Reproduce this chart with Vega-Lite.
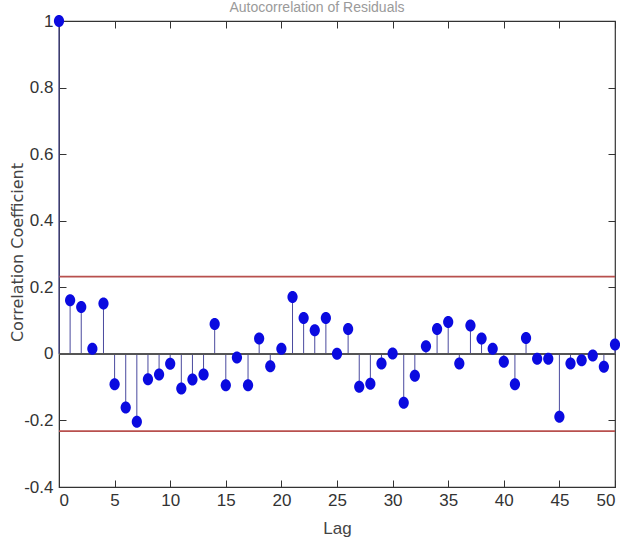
{
  "$schema": "https://vega.github.io/schema/vega-lite/v6.json",
  "width": 556,
  "height": 466,
  "autosize": {"type": "none"},
  "padding": {"left": 59, "top": 21, "right": 5, "bottom": 56},
  "background": "white",
  "title": {"text": "Autocorrelation of Residuals", "fontSize": 14, "font": "Liberation Sans", "fontWeight": "normal", "color": "#9a9a9a", "offset": 0, "baseline": "bottom", "dy": 17, "dx": -20},
  "config": {
    "view": {"stroke": "#333333", "strokeWidth": 1.2},
    "axis": {"grid": false, "domainColor": "#333333", "tickColor": "#333333", "labelColor": "#333333", "titleColor": "#444444", "labelFont": "Liberation Sans Narrow, Liberation Sans", "labelFontSize": 17, "titleFontWeight": "normal"}
  },
  "datasets": {
    "limits": [{"limit": 0.232}, {"limit": -0.232}]
  },
  "data": {"values": [
    {"lag": 0, "acf": 1.0},
    {"lag": 1, "acf": 0.161},
    {"lag": 2, "acf": 0.141},
    {"lag": 3, "acf": 0.015},
    {"lag": 4, "acf": 0.151},
    {"lag": 5, "acf": -0.091},
    {"lag": 6, "acf": -0.161},
    {"lag": 7, "acf": -0.204},
    {"lag": 8, "acf": -0.076},
    {"lag": 9, "acf": -0.062},
    {"lag": 10, "acf": -0.030},
    {"lag": 11, "acf": -0.104},
    {"lag": 12, "acf": -0.077},
    {"lag": 13, "acf": -0.062},
    {"lag": 14, "acf": 0.090},
    {"lag": 15, "acf": -0.094},
    {"lag": 16, "acf": -0.011},
    {"lag": 17, "acf": -0.094},
    {"lag": 18, "acf": 0.046},
    {"lag": 19, "acf": -0.037},
    {"lag": 20, "acf": 0.015},
    {"lag": 21, "acf": 0.171},
    {"lag": 22, "acf": 0.108},
    {"lag": 23, "acf": 0.071},
    {"lag": 24, "acf": 0.108},
    {"lag": 25, "acf": 0.0},
    {"lag": 26, "acf": 0.075},
    {"lag": 27, "acf": -0.099},
    {"lag": 28, "acf": -0.090},
    {"lag": 29, "acf": -0.029},
    {"lag": 30, "acf": 0.001},
    {"lag": 31, "acf": -0.147},
    {"lag": 32, "acf": -0.066},
    {"lag": 33, "acf": 0.023},
    {"lag": 34, "acf": 0.075},
    {"lag": 35, "acf": 0.096},
    {"lag": 36, "acf": -0.029},
    {"lag": 37, "acf": 0.085},
    {"lag": 38, "acf": 0.046},
    {"lag": 39, "acf": 0.015},
    {"lag": 40, "acf": -0.024},
    {"lag": 41, "acf": -0.091},
    {"lag": 42, "acf": 0.048},
    {"lag": 43, "acf": -0.015},
    {"lag": 44, "acf": -0.015},
    {"lag": 45, "acf": -0.189},
    {"lag": 46, "acf": -0.029},
    {"lag": 47, "acf": -0.019},
    {"lag": 48, "acf": -0.005},
    {"lag": 49, "acf": -0.039},
    {"lag": 50, "acf": 0.028}
  ]},
  "resolve": {"axis": {"x": "independent", "y": "independent"}},
  "layer": [
    {
      "data": {"name": "limits"},
      "mark": {"type": "rule", "color": "#b8504e", "strokeWidth": 1.6},
      "encoding": {
        "y": {"field": "limit", "type": "quantitative", "scale": {"domain": [-0.4, 1], "nice": false, "zero": false}, "axis": null}
      }
    },
    {
      "mark": {"type": "rule", "color": "#4a4a9e", "strokeWidth": 1},
      "encoding": {
        "x": {"field": "lag", "type": "quantitative", "scale": {"domain": [0, 50], "nice": false, "zero": false},
          "axis": {"orient": "bottom", "values": [0,5,10,15,20,25,30,35,40,45,50], "tickSize": -7, "labelPadding": 12, "title": "Lag", "titleFont": "Liberation Sans Narrow, Liberation Sans", "titleFontSize": 17, "titlePadding": 12}},
        "y": {"field": "acf", "type": "quantitative", "scale": {"domain": [-0.4, 1], "nice": false, "zero": false},
          "axis": {"orient": "left", "values": [-0.4,-0.2,0,0.2,0.4,0.6,0.8,1], "labelExpr": "'' + datum.value", "tickSize": -7, "labelPadding": 13, "title": "Correlation Coefficient", "titleFont": "DejaVu Sans", "titleFontSize": 16, "titleX": -42, "titleY": 231, "titleBaseline": "middle"}},
        "y2": {"datum": 0}
      }
    },
    {
      "mark": {"type": "rule", "color": "#555555", "strokeWidth": 1.5},
      "encoding": {"y": {"datum": 0, "type": "quantitative", "axis": null}}
    },
    {
      "mark": {"type": "point", "filled": true, "opacity": 1, "color": "#0a0ae0", "size": 144, "shape": "M0,-1 A0.85,1 0 1,1 0,1 A0.85,1 0 1,1 0,-1 Z"},
      "encoding": {
        "x": {"field": "lag", "type": "quantitative",
          "axis": {"orient": "top", "values": [0,5,10,15,20,25,30,35,40,45,50], "tickSize": -7, "labels": false, "domain": false, "title": null}},
        "y": {"field": "acf", "type": "quantitative",
          "axis": {"orient": "right", "values": [-0.4,-0.2,0,0.2,0.4,0.6,0.8,1], "tickSize": -7, "labels": false, "domain": false, "title": null}}
      }
    }
  ]
}
